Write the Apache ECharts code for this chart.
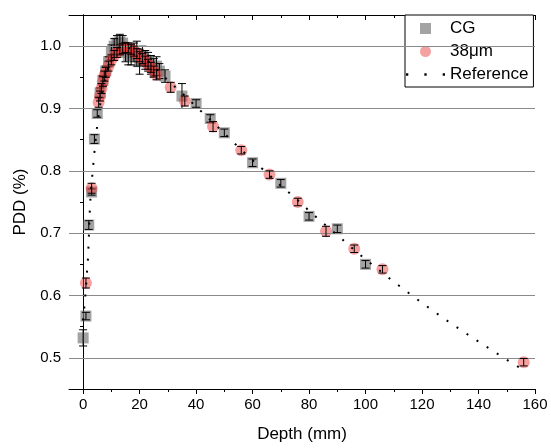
<!DOCTYPE html>
<html>
<head>
<meta charset="utf-8">
<script src="https://cdn.jsdelivr.net/npm/echarts@6/dist/echarts.min.js"></script>
<style>html,body{margin:0;padding:0;background:#fff}#c{width:551px;height:448px}</style>
</head>
<body>
<div id="c"></div>
<script>
// ---- data ----
const depthCG = [0, 1, 2, 3, 4, 5, 6, 7, 8, 9, 10, 11, 12, 13, 14, 15, 16, 17, 18, 19, 20, 21, 22, 23, 24, 25, 26, 27, 29, 35, 40, 45, 50, 60, 70, 80, 90, 100];
const pddCG   = [0.532, 0.567, 0.713, 0.766, 0.851, 0.892, 0.925, 0.945, 0.96, 0.975, 0.99, 1.0, 1.005, 1.007, 1.005, 0.99, 0.985, 0.985, 0.99, 0.988, 0.975, 0.985, 0.978, 0.975, 0.97, 0.965, 0.968, 0.96, 0.952, 0.92, 0.908, 0.884, 0.861, 0.813, 0.78, 0.727, 0.707, 0.65];
const errCG   = [0.013, 0.006, 0.007, 0.005, 0.007, 0.006, 0.008, 0.008, 0.008, 0.008, 0.012, 0.012, 0.012, 0.012, 0.012, 0.015, 0.015, 0.015, 0.015, 0.02, 0.02, 0.015, 0.015, 0.015, 0.015, 0.015, 0.015, 0.012, 0.01, 0.02, 0.006, 0.006, 0.006, 0.006, 0.006, 0.006, 0.006, 0.006];

const depth38 = [1, 3, 5.5, 6, 6.5, 7, 7.5, 8, 9, 10, 11, 12, 13, 14, 15, 16, 17, 18, 19, 20, 21, 22, 23, 24, 25, 26, 31, 36, 46, 56, 66, 76, 86, 96, 106, 156];
const pdd38   = [0.62, 0.772, 0.91, 0.92, 0.932, 0.943, 0.952, 0.958, 0.968, 0.978, 0.985, 0.99, 0.994, 0.996, 0.998, 0.997, 0.995, 0.992, 0.988, 0.983, 0.98, 0.976, 0.971, 0.966, 0.96, 0.954, 0.934, 0.912, 0.871, 0.833, 0.794, 0.75, 0.703, 0.675, 0.642, 0.493];
const err38   = [0.008, 0.008, 0.008, 0.008, 0.008, 0.008, 0.008, 0.008, 0.008, 0.008, 0.008, 0.008, 0.008, 0.008, 0.008, 0.008, 0.008, 0.008, 0.008, 0.008, 0.008, 0.008, 0.008, 0.008, 0.008, 0.008, 0.008, 0.008, 0.008, 0.006, 0.006, 0.006, 0.008, 0.006, 0.006, 0.006];

const depthRef = [0, 0.5, 1, 1.3, 1.7, 2, 2.3, 2.6, 3, 3.5, 4, 4.5, 5, 6, 7, 8, 9, 10, 11, 12, 13, 14, 15, 17, 20, 25, 30, 35, 40, 45, 50, 55, 60, 65, 70, 75, 80, 85, 90, 95, 100, 105, 110, 120, 130, 140, 150, 156];
const pddRef   = [0.56, 0.585, 0.612, 0.634, 0.658, 0.69, 0.73, 0.756, 0.78, 0.805, 0.83, 0.853, 0.873, 0.905, 0.93, 0.952, 0.968, 0.98, 0.99, 0.996, 1.0, 1.0, 0.999, 0.996, 0.988, 0.968, 0.945, 0.925, 0.903, 0.882, 0.86, 0.838, 0.817, 0.797, 0.776, 0.757, 0.736, 0.716, 0.697, 0.677, 0.658, 0.64, 0.622, 0.588, 0.556, 0.526, 0.497, 0.48];

const xMajorTicks = [0, 20, 40, 60, 80, 100, 120, 140, 160];
const xMinorTicks = [10, 30, 50, 70, 90, 110, 130, 150];
const yMajorTicks = [0.5, 0.6, 0.7, 0.8, 0.9, 1.0];
const yMinorTicks = [0.45, 0.55, 0.65, 0.75, 0.85, 0.95, 1.05];
const gridValues  = [0.5, 0.6, 0.7, 0.8, 0.9, 1.0];

// ---- build ----
const FONT = 'Liberation Sans, Arial, sans-serif';
const zip3 = (a, b, c) => a.map((v, i) => [v, b[i], c[i]]);
const zip2 = (a, b) => a.map((v, i) => [v, b[i]]);

function xAx(position, ticks, len, inside, labels, extra) {
  return Object.assign({
    type: 'value', min: -5, max: 160, position: position,
    axisLine: { show: true, lineStyle: { color: '#000', width: 1 } },
    axisTick: { show: true, customValues: ticks, length: len, inside: inside, lineStyle: { color: '#000', width: 1 } },
    axisLabel: labels ? { show: true, customValues: xMajorTicks, color: '#000', fontSize: 15, fontFamily: FONT, margin: 8 } : { show: false },
    splitLine: { show: false }, minorTick: { show: false }
  }, extra || {});
}
function yAx(position, ticks, len, inside, labels, extra) {
  return Object.assign({
    type: 'value', min: 0.45, max: 1.05, position: position,
    axisLine: { show: true, lineStyle: { color: '#000', width: 1 } },
    axisTick: { show: true, customValues: ticks, length: len, inside: inside, lineStyle: { color: '#000', width: 1 } },
    axisLabel: labels ? { show: true, customValues: yMajorTicks, color: '#000', fontSize: 15, fontFamily: FONT, margin: 8,
      formatter: v => v.toFixed(1) } : { show: false },
    splitLine: { show: false }, minorTick: { show: false }
  }, extra || {});
}

function errRender(params, api) {
  const x = api.value(0), y = api.value(1), e = api.value(2);
  const t = api.coord([x, y + e]), b = api.coord([x, y - e]);
  const w = 4;
  const st = { stroke: '#000', lineWidth: 1 };
  return { type: 'group', children: [
    { type: 'line', shape: { x1: t[0], y1: t[1], x2: b[0], y2: b[1] }, style: st },
    { type: 'line', shape: { x1: t[0] - w, y1: t[1], x2: t[0] + w, y2: t[1] }, style: st },
    { type: 'line', shape: { x1: b[0] - w, y1: b[1], x2: b[0] + w, y2: b[1] }, style: st }
  ]};
}

const chart = echarts.init(document.getElementById('c'), null, { renderer: 'canvas' });
chart.setOption({
  animation: false,
  backgroundColor: '#fff',
  textStyle: { fontFamily: FONT },
  grid: { left: 69, right: 16, top: 15, bottom: 57 },
  xAxis: [
    xAx('bottom', xMajorTicks, 5, false, true, { name: 'Depth (mm)', nameLocation: 'middle', nameGap: 37,
      nameTextStyle: { color: '#000', fontSize: 17, fontFamily: FONT } }),
    xAx('bottom', xMinorTicks, 3, false, false, { axisLine: { show: false } }),
    xAx('top', xMajorTicks, 5, true, false),
    xAx('top', xMinorTicks, 3, true, false, { axisLine: { show: false } })
  ],
  yAxis: [
    yAx('left', yMajorTicks, 5, false, true, { name: 'PDD (%)', nameLocation: 'middle', nameGap: 32,
      nameTextStyle: { color: '#000', fontSize: 17, fontFamily: FONT } }),
    yAx('left', yMinorTicks, 3, false, false, { axisLine: { show: false } }),
    yAx('right', yMajorTicks, 5, true, false),
    yAx('right', yMinorTicks, 3, true, false, { axisLine: { show: false } })
  ],
  legend: {
    orient: 'vertical', left: 405, top: 15,
    padding: [5, 5, 4, 1], itemGap: 6, itemWidth: 39, itemHeight: 11,
    borderColor: '#000', borderWidth: 1, backgroundColor: '#fff',
    textStyle: { color: '#000', fontSize: 17, fontFamily: FONT, lineHeight: 16 },
    data: [
      { name: 'CG', icon: 'path://M0,0L10,0L10,10L0,10Z', itemStyle: { color: '#8c8c8c' } },
      { name: '38μm', icon: 'circle', itemStyle: { color: '#f08a8a' } },
      { name: 'Reference', icon: 'path://M0,0h2v2h-2z M16,0h2v2h-2z M32,0h2v2h-2z', itemStyle: { color: '#000' } }
    ]
  },
  series: [
    {
      name: 'grid', type: 'line', data: [], silent: true, symbol: 'none',
      markLine: { silent: true, symbol: 'none', label: { show: false }, animation: false,
        lineStyle: { color: '#8a8a8a', type: 'solid', width: 1 },
        data: gridValues.map(v => ({ yAxis: v })) }
    },
    {
      name: 'CG', type: 'scatter', symbol: 'rect', symbolSize: 11, z: 2,
      itemStyle: { color: 'rgba(120,120,120,0.85)' },
      data: zip2(depthCG, pddCG)
    },
    {
      name: 'CG', type: 'custom', renderItem: errRender, z: 3,
      data: zip3(depthCG, pddCG, errCG)
    },
    {
      name: '38μm', type: 'scatter', symbol: 'circle', symbolSize: 12, z: 4,
      itemStyle: { color: 'rgba(235,55,55,0.6)' },
      data: zip2(depth38, pdd38)
    },
    {
      name: '38μm', type: 'custom', renderItem: errRender, z: 5,
      data: zip3(depth38, pdd38, err38)
    },
    {
      name: 'Reference', type: 'line', symbol: 'none', showSymbol: false, z: 6,
      lineStyle: { color: '#000', width: 2, type: [2, 10] },
      itemStyle: { color: '#000' },
      data: zip2(depthRef, pddRef)
    }
  ]
});
</script>
</body>
</html>
